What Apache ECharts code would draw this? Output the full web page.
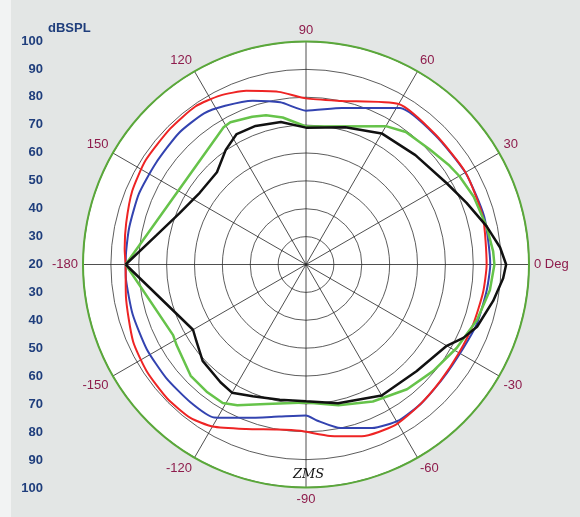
<!DOCTYPE html>
<html><head><meta charset="utf-8">
<script src="https://cdn.jsdelivr.net/npm/echarts@6/dist/echarts.min.js"></script>
<style>html,body{margin:0;padding:0;background:#e3e6e5}#c{width:580px;height:517px}</style>
</head><body><div id="c"></div><script>
// Angle ticks (degrees) and dB ticks
const angleTicks = [-180,-150,-120,-90,-60,-30,0,30,60,90,120,150,180];
const dbTicks = [20,30,40,50,60,70,80,90,100];

// Series: angles (deg) and levels (dBSPL)
const redAngles = [-180,-170,-156,-146,-136,-127,-120,-110,-100,-92,-82,-72,-61,-51,-41,-30,-20,-9,0,15,30,45,60,78,90,99,109,117,125,135,147,157,167,175,180];
const redValues = [84.7,85.6,87.9,88.8,89.2,88.9,87.1,82.8,80.1,79.7,82.1,84.8,85.9,84.8,83.8,83.4,83.7,84.3,84.8,85.7,86.1,85.8,86.5,80.0,79.6,82.7,85.9,88.0,89.2,88.9,88.6,87.7,86.2,85.3,84.7];

const blueAngles = [-180,-175,-164,-152,-141,-130,-121,-111,-100,-90,-86,-78,-68,-59,-50,-40,-28,-19,-8,0,15,30,45,59,77,90,99,108,117,124,134,146,157,168,176,180];
const blueValues = [84.7,84.8,84.7,84.7,84.6,84.5,84.0,78.9,75.4,74.2,76.1,80.0,83.3,85.1,84.7,83.9,83.9,84.9,85.5,86.1,86.2,86.0,85.6,85.5,77.6,75.2,78.9,81.8,83.9,85.4,85.6,85.0,85.1,84.8,84.7,84.7];

const greenAngles = [-180,-152,-148,-136,-128,-121,-116,-106,-90,-77,-64,-51,-40,-29,-18,-8,0,4,12,22,30,35,43,53,60,90,99,105,110,118,121,180];
const greenValues = [84.7,74.0,74.7,77.5,77.9,78.0,76.2,72.1,69.5,71.8,74.7,77.6,79.5,81.8,84.5,86.6,87.6,87.3,86.2,84.9,83.5,82.4,80.6,79.5,77.3,69.5,73.4,75.4,76.4,77.8,77.4,84.7];

const blackAngles = [-180,-150,-145,-137,-126,-120,-112,-101,-90,-77,-60,-44,-30,-25,-20,-11,-4,0,5,12,21,30,45,60,74,90,100,110,118,125,134,146,158,169,180];
const blackValues = [84.7,66.8,68.0,70.7,72.2,73.1,71.0,69.4,69.1,71.1,74.3,75.1,78.3,82.3,85.3,88.4,90.9,91.8,89.9,86.2,81.7,78.3,75.5,74.3,71.2,69.1,71.9,72.9,73.0,70.2,66.0,66.0,69.0,74.7,84.7];

function pairs(angles, values){ return angles.map((a,i)=>[values[i], a]); }

const blueTxt = '#1f3e7c', maroon = '#8e1c4c';
const cx = 306, cy = 264.5, R = 223;
const chart = echarts.init(document.getElementById('c'), null, {renderer:'canvas'});
chart.setOption({
  animation:false,
  backgroundColor:'#e3e6e5',
  graphic:[
    {type:'rect', left:0, top:0, z:-20, shape:{width:11, height:517}, style:{fill:'#f2f3f3'}, silent:true},
    {type:'circle', z:-20, shape:{cx:cx, cy:cy, r:R}, style:{fill:'#ffffff'}, silent:true},
    {type:'text', left:293, top:468, style:{text:'ZMS', font:'italic 13px "DejaVu Serif"', fill:'#111'}, z:100}
  ],
  polar:{center:[cx,cy], radius:R},
  angleAxis:{
    type:'value', min:-180, max:180, interval:30, startAngle:180, clockwise:false,
    axisLine:{show:true, lineStyle:{color:'#5aa83a', width:2}},
    axisTick:{show:false},
    splitLine:{show:true, lineStyle:{color:'#222', width:0.8}},
    axisLabel:{show:true, margin:5, color:maroon, fontSize:13, fontFamily:'Liberation Sans',
      formatter:v=> v===0 ? '0 Deg' : (v===180 ? '' : String(v))}
  },
  radiusAxis:{
    type:'value', min:dbTicks[0], max:dbTicks[dbTicks.length-1], interval:10,
    axisLine:{show:false}, axisTick:{show:false}, axisLabel:{show:false},
    splitLine:{show:true, lineStyle:{color:'#333', width:0.8}},
    splitArea:{show:false}
  },
  grid:{left:44, top:41, bottom:29, width:1},
  xAxis:{type:'value', show:false},
  yAxis:{
    type:'value', min:-80, max:80, interval:10, position:'left',
    axisLine:{show:false}, axisTick:{show:false}, splitLine:{show:false},
    axisLabel:{color:blueTxt, fontSize:13, fontWeight:'bold', fontFamily:'Liberation Sans', margin:1,
      showMinLabel:true, showMaxLabel:true, formatter:v=>String(Math.abs(v)+dbTicks[0])},
    name:'dBSPL', nameLocation:'end', nameGap:6,
    nameTextStyle:{color:blueTxt, fontSize:13, fontWeight:'bold', fontFamily:'Liberation Sans', align:'left', padding:[0,0,0,4]}
  },
  series:[
    {type:'line', coordinateSystem:'polar', data:pairs(blueAngles, blueValues), symbol:'none', smooth:0.2, lineStyle:{color:'#3343b0', width:2}, z:3},
    {type:'line', coordinateSystem:'polar', data:pairs(redAngles, redValues), symbol:'none', smooth:0.2, lineStyle:{color:'#ee2424', width:2}, z:4},
    {type:'line', coordinateSystem:'polar', data:pairs(greenAngles, greenValues), symbol:'none', lineStyle:{color:'#66c34a', width:2.5}, z:5},
    {type:'line', coordinateSystem:'polar', data:pairs(blackAngles, blackValues), symbol:'none', lineStyle:{color:'#111', width:2.5}, z:6}
  ]
});
</script></body></html>
